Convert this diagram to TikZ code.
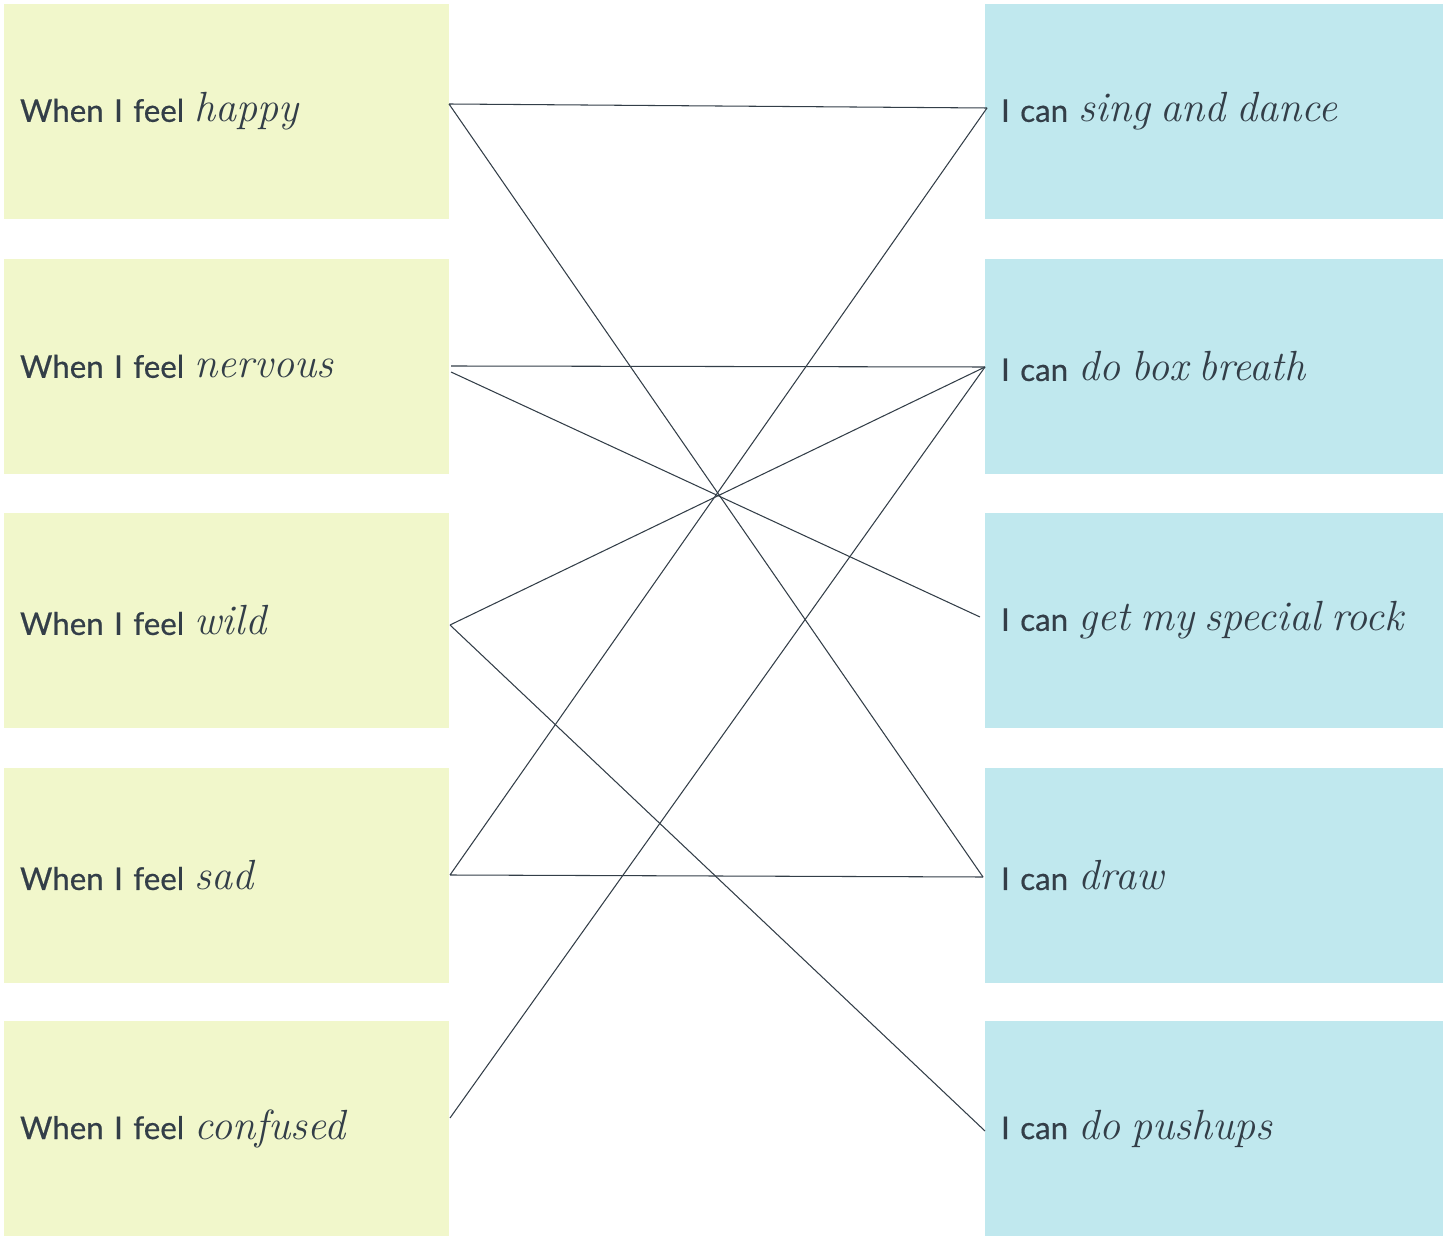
\documentclass[tikz,border=0pt]{standalone}
\usepackage{fontspec}
\setsansfont{Lato}[BoldFont={Lato},BoldFeatures={FakeBold=0.5}]
\usepackage{xcolor}
\usepackage{tikz}
\definecolor{ink}{HTML}{333E48}
\definecolor{feelfill}{HTML}{F1F7CB}
\definecolor{canfill}{HTML}{C0E8EE}
\newcommand\hand[1]{{\rmfamily\mdseries\itshape\fontsize{24}{28}\selectfont #1}}

\begin{document}
\begin{tikzpicture}[x=0.02cm,y=-0.02cm,
  feel/.style={fill=feelfill,minimum width=8.9cm,minimum height=4.3cm,text width=8.26cm,inner xsep=0.32cm,align=left,font=\sffamily\bfseries\fontsize{17.8}{21}\selectfont,text=ink},
  can/.style={feel,fill=canfill,minimum width=9.16cm,text width=8.52cm},
  tie/.style={draw=ink,line width=0.6pt}]
				\useasboundingbox (0,0) rectangle (1444,1236);
				\node[feel] (happy) at (226.5,111.5) {When I feel \hand{happy}};
				\node[feel] (nervous) at (226.5,366.5) {When I feel \hand{nervous}};
				\node[feel] (wild) at (226.5,620.5) {When I feel \hand{wild}};
				\node[feel] (sad) at (226.5,875.5) {When I feel \hand{sad}};
				\node[feel] (confused) at (226.5,1128.5) {When I feel \hand{confused}};
				\node[can] (sing) at (1214,111.5) {I can \hand{sing and dance}};
				\node[can] (box) at (1214,366.5) {I can \hand{do box breath}};
				\node[can] (rock) at (1214,620.5) {I can \hand{get my special rock}};
				\node[can] (drawing) at (1214,875.5) {I can \hand{draw}};
				\node[can] (push) at (1214,1128.5) {I can \hand{do pushups}};
				\coordinate (happy-o) at (449,104);
				\coordinate (nervous-o) at (451,366);
				\coordinate (nervous-o2) at (451,372);
				\coordinate (wild-o) at (450,625);
				\coordinate (sad-o) at (450,875);
				\coordinate (confused-o) at (450,1118);
				\coordinate (sing-i) at (987,108);
				\coordinate (box-i) at (985,367);
				\coordinate (rock-i) at (980,617);
				\coordinate (drawing-i) at (983,877);
				\coordinate (push-i) at (985,1131);
				\draw[tie] (happy-o) -- (sing-i) (happy-o) -- (drawing-i);
				\draw[tie] (nervous-o) -- (box-i) (nervous-o2) -- (rock-i);
				\draw[tie] (wild-o) -- (box-i) (wild-o) -- (push-i);
				\draw[tie] (sad-o) -- (sing-i) (sad-o) -- (drawing-i);
				\draw[tie] (confused-o) -- (box-i);
			\end{tikzpicture}
\end{document}
